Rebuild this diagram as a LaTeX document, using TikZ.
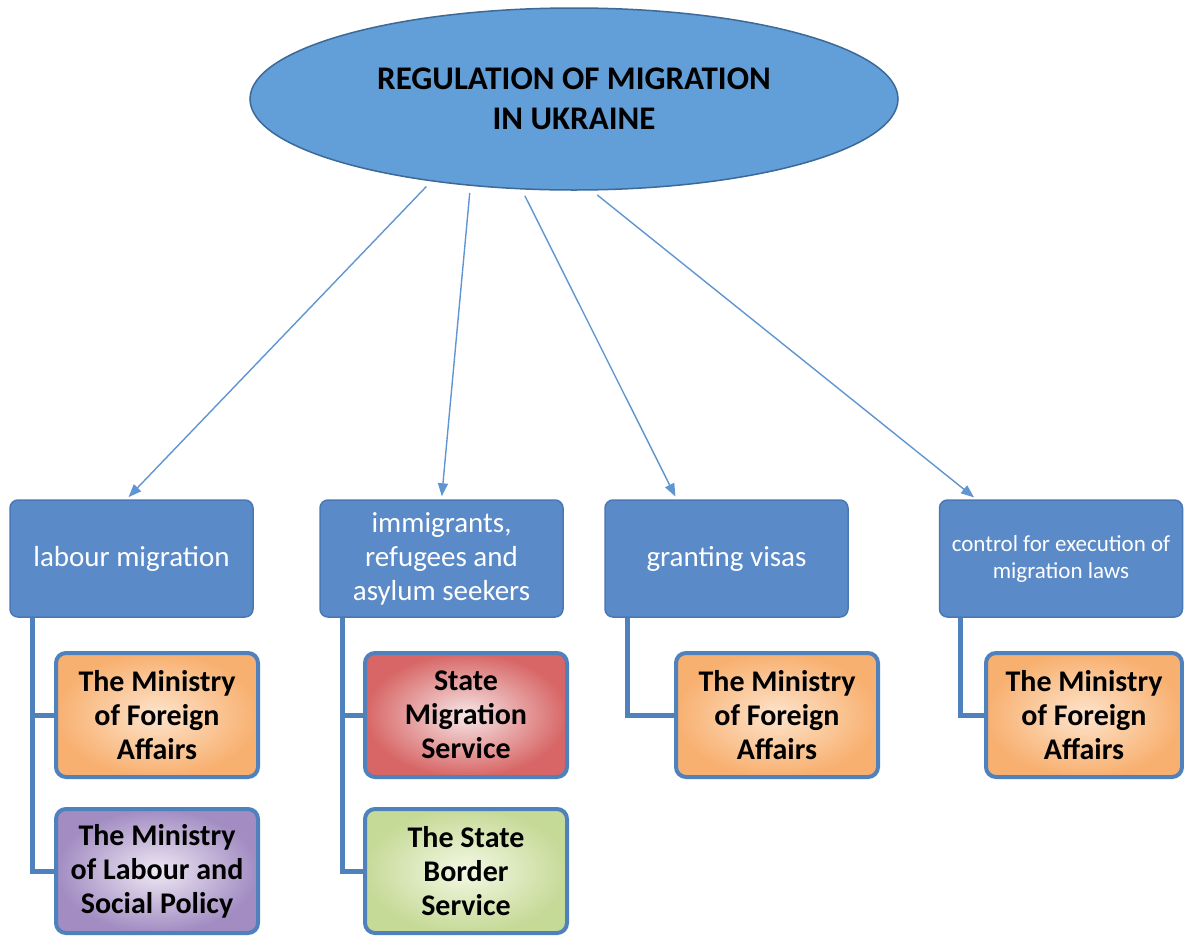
\documentclass[tikz,border=0pt]{standalone}
\usepackage{fontspec}
\setmainfont{Carlito}
\usetikzlibrary{shapes.geometric,arrows.meta}
\definecolor{ovalblue}{RGB}{98,158,216}
\definecolor{ovalline}{RGB}{60,105,150}
\definecolor{areablue}{RGB}{90,138,200}
\definecolor{arealine}{RGB}{75,120,180}
\definecolor{bodyline}{RGB}{79,129,189}
\definecolor{linkblue}{RGB}{95,150,210}
\tikzstyle{topic} = [ellipse,draw=ovalline,line width=1.5,fill=ovalblue,minimum width=648,minimum height=182,inner sep=0,align=center,font=\fontsize{33}{40}\selectfont\bfseries]
\tikzstyle{area} = [rectangle,rounded corners=8,draw=arealine,line width=1.5,fill=areablue,text=white,minimum width=243,minimum height=117,inner sep=2,align=center,font=\fontsize{29}{34}\selectfont]
\tikzstyle{body} = [rectangle,rounded corners=10,draw=bodyline,line width=4,minimum width=202,minimum height=124,inner sep=2,align=center,font=\fontsize{30}{34}\selectfont\bfseries]
\tikzstyle{orangebody} = [body,inner color={rgb,255:red,253;green,228;blue,204},outer color={rgb,255:red,248;green,176;blue,112}]
\tikzstyle{redbody} = [body,inner color={rgb,255:red,246;green,230;blue,230},outer color={rgb,255:red,216;green,102;blue,102}]
\tikzstyle{purplebody} = [body,inner color={rgb,255:red,238;green,232;blue,244},outer color={rgb,255:red,162;green,140;blue,194}]
\tikzstyle{greenbody} = [body,inner color={rgb,255:red,244;green,248;blue,228},outer color={rgb,255:red,198;green,218;blue,152}]
\tikzstyle{link} = [draw=linkblue,line width=1.4,-{Triangle[width=10,length=13]},shorten <=7,shorten >=3]
\tikzstyle{elbow} = [draw=bodyline,line width=5]

\begin{document}
\begin{tikzpicture}[x=1pt,y=-1pt]
\useasboundingbox (0,0) rectangle (1184,935);
\node[topic] (topic) at (574,99) {REGULATION OF MIGRATION\\IN UKRAINE};

% areas of regulation
\node[area] (labour) at (131.5,558.5) {labour migration};
\node[area] (refugees) at (441.5,558.5) {immigrants,\\refugees and\\asylum seekers};
\node[area] (visas) at (726.5,558.5) {granting visas};
\node[area,font=\fontsize{23}{27}\selectfont] (control) at (1061,558.5) {control for execution of\\migration laws};

% bodies
\node[orangebody] (labourMFA) at (157,715) {The Ministry\\of Foreign\\Affairs};
\node[purplebody] (labourMLSP) at (157,871) {The Ministry\\of Labour and\\Social Policy};
\node[redbody] (refugeesSMS) at (466,715) {State\\Migration\\Service};
\node[greenbody] (refugeesSBS) at (466,871) {The State\\Border\\Service};
\node[orangebody] (visasMFA) at (777,715) {The Ministry\\of Foreign\\Affairs};
\node[orangebody,minimum width=196] (controlMFA) at (1084,715) {The Ministry\\of Foreign\\Affairs};

\draw[link] (topic.210) -- ([xshift=-5]labour.north);
\draw[link] (topic.220) -- (refugees.north);
\draw[link] (topic.240) -- (visas.130);
\draw[link] (topic.281) -- (control.145);

\draw[elbow] ([xshift=23]labour.south west) |- (labourMFA.west);
\draw[elbow] ([xshift=23]labour.south west) |- (labourMLSP.west);
\draw[elbow] ([xshift=23]refugees.south west) |- (refugeesSMS.west);
\draw[elbow] ([xshift=23]refugees.south west) |- (refugeesSBS.west);
\draw[elbow] ([xshift=23]visas.south west) |- (visasMFA.west);
\draw[elbow] ([xshift=22]control.south west) |- (controlMFA.west);
\end{tikzpicture}
\end{document}
